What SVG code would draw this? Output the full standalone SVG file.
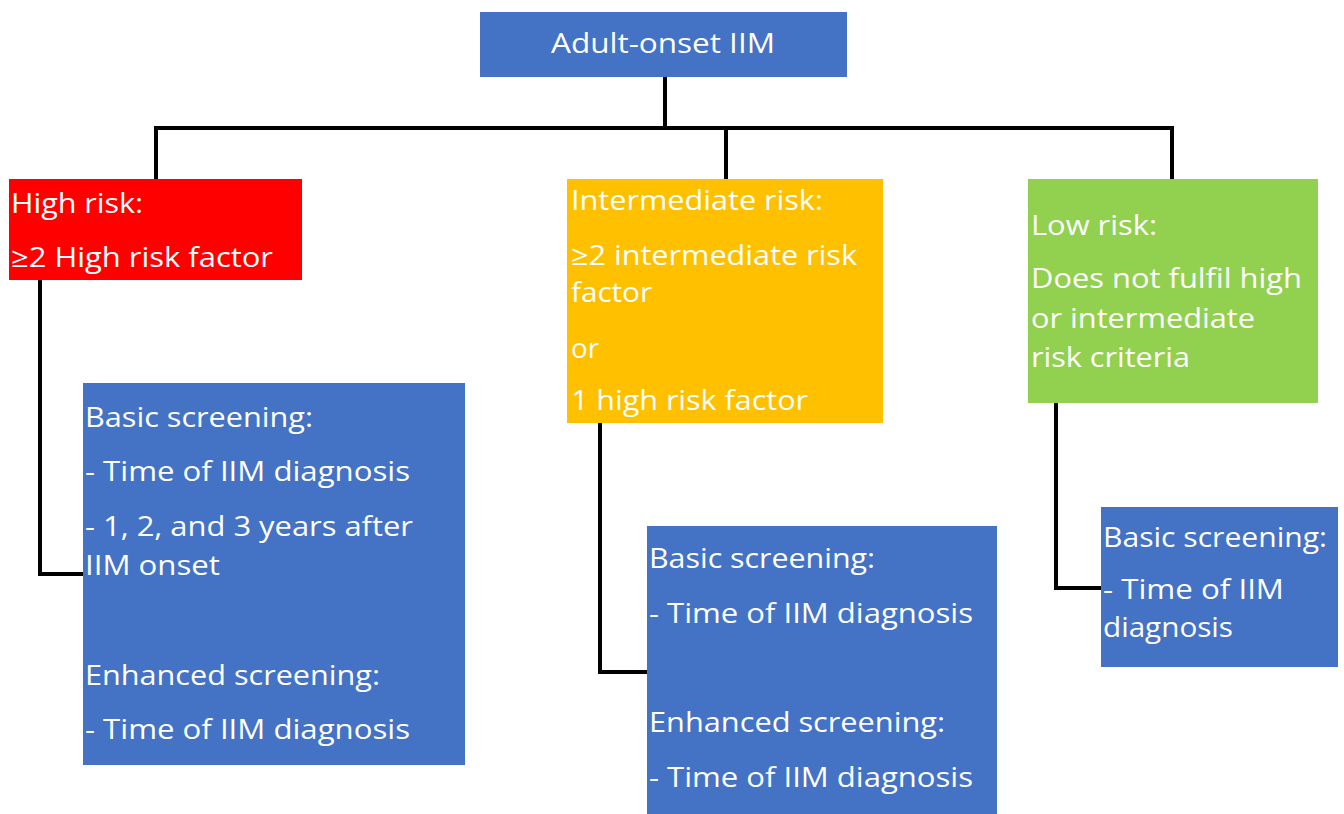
<svg xmlns="http://www.w3.org/2000/svg" width="1344" height="814" viewBox="0 0 1344 814">
<style>
.t{font-family:"Open Sans","Liberation Sans",sans-serif;font-size:27px;fill:#ffffff;}
.c{fill:none;stroke:#000000;stroke-width:4;}
.blue{fill:#4472C4;}
</style>
<rect width="1344" height="814" fill="#ffffff"/>
<g id="connectors">
<polyline class="c" points="665,77 665,128"/>
<polyline class="c" points="154,128 1174,128"/>
<polyline class="c" points="156,128 156,179"/>
<polyline class="c" points="726,128 726,179"/>
<polyline class="c" points="1172,128 1172,179"/>
<polyline class="c" points="40,280 40,574 83,574"/>
<polyline class="c" points="600,423 600,672 647,672"/>
<polyline class="c" points="1056,403 1056,588 1101,588"/>
</g>
<g id="root">
<rect class="blue" x="480" y="12" width="367" height="65"/>
<text class="t" x="551" y="53" textLength="224" lengthAdjust="spacingAndGlyphs">Adult-onset IIM</text>
</g>
<g id="high">
<rect x="9" y="179" width="293" height="101" fill="#FF0000"/>
<text class="t" x="11" y="213" textLength="132" lengthAdjust="spacingAndGlyphs">High risk:</text>
<text class="t" x="11" y="267" textLength="262" lengthAdjust="spacingAndGlyphs">≥2 High risk factor</text>
</g>
<g id="intermediate">
<rect x="567" y="179" width="316" height="244" fill="#FFC000"/>
<text class="t" x="571" y="210" textLength="252" lengthAdjust="spacingAndGlyphs">Intermediate risk:</text>
<text class="t" x="571" y="265" textLength="286" lengthAdjust="spacingAndGlyphs">≥2 intermediate risk</text>
<text class="t" x="571" y="302" textLength="81" lengthAdjust="spacingAndGlyphs">factor</text>
<text class="t" x="571" y="358" textLength="28" lengthAdjust="spacingAndGlyphs">or</text>
<text class="t" x="571" y="410" textLength="237" lengthAdjust="spacingAndGlyphs">1 high risk factor</text>
</g>
<g id="low">
<rect x="1028" y="179" width="290" height="224" fill="#92D050"/>
<text class="t" x="1031" y="235" textLength="126" lengthAdjust="spacingAndGlyphs">Low risk:</text>
<text class="t" x="1031" y="288" textLength="271" lengthAdjust="spacingAndGlyphs">Does not fulfil high</text>
<text class="t" x="1031" y="328" textLength="224" lengthAdjust="spacingAndGlyphs">or intermediate</text>
<text class="t" x="1031" y="367" textLength="159" lengthAdjust="spacingAndGlyphs">risk criteria</text>
</g>
<g id="high-screening">
<rect class="blue" x="83" y="383" width="382" height="382"/>
<text class="t" x="85" y="427" textLength="228" lengthAdjust="spacingAndGlyphs">Basic screening:</text>
<text class="t" x="85" y="481" textLength="325" lengthAdjust="spacingAndGlyphs">- Time of IIM diagnosis</text>
<text class="t" x="85" y="536" textLength="328" lengthAdjust="spacingAndGlyphs">- 1, 2, and 3 years after</text>
<text class="t" x="85" y="575" textLength="135" lengthAdjust="spacingAndGlyphs">IIM onset</text>
<text class="t" x="85" y="685" textLength="295" lengthAdjust="spacingAndGlyphs">Enhanced screening:</text>
<text class="t" x="85" y="739" textLength="325" lengthAdjust="spacingAndGlyphs">- Time of IIM diagnosis</text>
</g>
<g id="intermediate-screening">
<rect class="blue" x="647" y="526" width="350" height="288"/>
<text class="t" x="649" y="568" textLength="226" lengthAdjust="spacingAndGlyphs">Basic screening:</text>
<text class="t" x="649" y="623" textLength="324" lengthAdjust="spacingAndGlyphs">- Time of IIM diagnosis</text>
<text class="t" x="649" y="732" textLength="296" lengthAdjust="spacingAndGlyphs">Enhanced screening:</text>
<text class="t" x="649" y="787" textLength="324" lengthAdjust="spacingAndGlyphs">- Time of IIM diagnosis</text>
</g>
<g id="low-screening">
<rect class="blue" x="1101" y="507" width="237" height="160"/>
<text class="t" x="1103" y="547" textLength="224" lengthAdjust="spacingAndGlyphs">Basic screening:</text>
<text class="t" x="1103" y="599" textLength="181" lengthAdjust="spacingAndGlyphs">- Time of IIM</text>
<text class="t" x="1103" y="637" textLength="130" lengthAdjust="spacingAndGlyphs">diagnosis</text>
</g>
</svg>
